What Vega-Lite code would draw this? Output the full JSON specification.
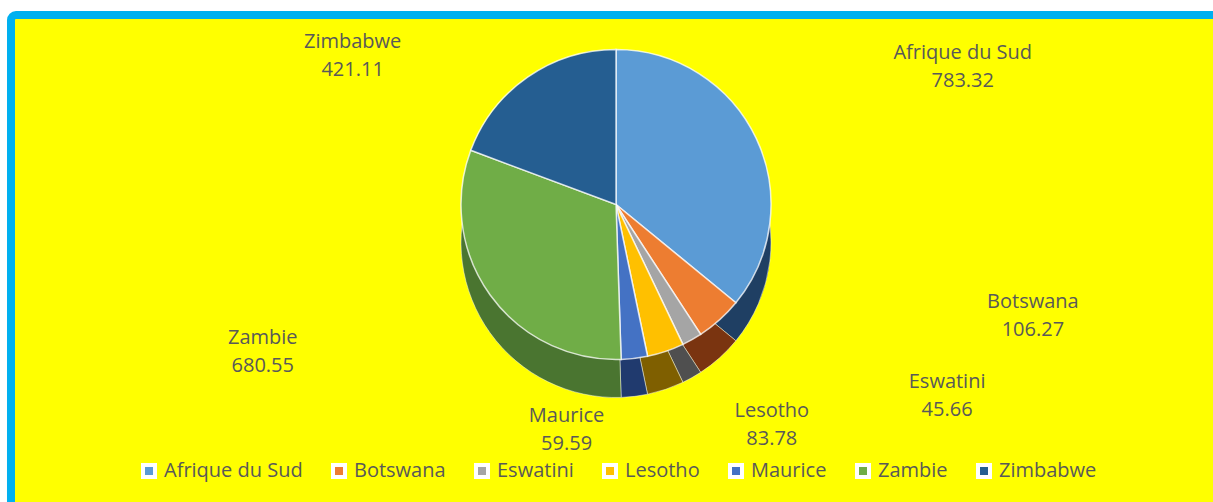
{
  "$schema": "https://vega.github.io/schema/vega-lite/v6.json",
  "width": 1213,
  "height": 502,
  "autosize": {"type": "fit", "contains": "padding"},
  "padding": {"left": 11, "top": 15, "right": -8, "bottom": -8},
  "background": "#FFFFFF",
  "view": {"fill": "#FFFF00", "stroke": "#00B0F0", "strokeWidth": 8, "cornerRadius": 5},
  "config": {
    "font": "Open Sans"
  },
  "data": {
    "values": [
      {"name": "Afrique du Sud", "value": 783.32},
      {"name": "Botswana", "value": 106.27},
      {"name": "Eswatini", "value": 45.66},
      {"name": "Lesotho", "value": 83.78},
      {"name": "Maurice", "value": 59.59},
      {"name": "Zambie", "value": 680.55},
      {"name": "Zimbabwe", "value": 421.11}
    ]
  },
  "transform": [
    {"calculate": "[datum.name, format(datum.value, '.2f')]", "as": "label"}
  ],
  "layer": [
    {
      "mark": {"type": "arc", "outerRadius": 155, "yOffset": -20, "stroke": "#FFFFFF", "strokeOpacity": 0.45, "strokeWidth": 1},
      "encoding": {
        "theta": {"field": "value", "type": "quantitative", "stack": true},
        "color": {
          "field": "name", "type": "nominal",
          "scale": {"range": ["#1F3F63", "#7A3410", "#4F4F4F", "#7F5F00", "#203A6E", "#4A7530", "#173A5E"]},
          "legend": null
        }
      }
    },
    {
      "mark": {"type": "arc", "outerRadius": 155, "yOffset": -58, "stroke": "#FFFFFF", "strokeOpacity": 0.75, "strokeWidth": 1.5},
      "encoding": {
        "theta": {"field": "value", "type": "quantitative", "stack": true},
        "color": {
          "field": "name", "type": "nominal",
          "scale": {"range": ["#5B9BD5", "#ED7D31", "#A5A5A5", "#FFC000", "#4472C4", "#70AD47", "#255E91"]},
          "legend": {
            "orient": "none", "legendX": 128, "legendY": 446, "direction": "horizontal",
            "title": null, "symbolType": "square", "symbolSize": 144,
            "symbolStrokeColor": "#FFFFFF", "symbolStrokeWidth": 4,
            "labelFontSize": 20, "labelColor": "#595959", "labelFont": "Open Sans",
            "columnPadding": 22, "labelOffset": 5, "padding": 0
          }
        }
      }
    },
    {
      "mark": {
        "type": "text", "radius": 190, "yOffset": -57, "fontSize": 20, "lineHeight": 28,
        "fill": "#595959", "font": "Open Sans",
        "dx": {"expr": "datum.name === 'Afrique du Sud' ? 175 : datum.name === 'Botswana' ? 290 : datum.name === 'Eswatini' ? 238 : datum.name === 'Lesotho' ? 95 : datum.name === 'Maurice' ? -72 : datum.name === 'Zambie' ? -199 : -155"},
        "dy": {"expr": "datum.name === 'Afrique du Sud' ? -71 : datum.name === 'Botswana' ? -45 : datum.name === 'Eswatini' ? 11 : datum.name === 'Lesotho' ? 25 : datum.name === 'Maurice' ? 22 : datum.name === 'Zambie' ? 22 : -7"}
      },
      "encoding": {
        "theta": {"field": "value", "type": "quantitative", "stack": true},
        "detail": {"field": "name", "type": "nominal"},
        "text": {"field": "label"}
      }
    }
  ],
  "resolve": {"scale": {"color": "independent"}}
}
